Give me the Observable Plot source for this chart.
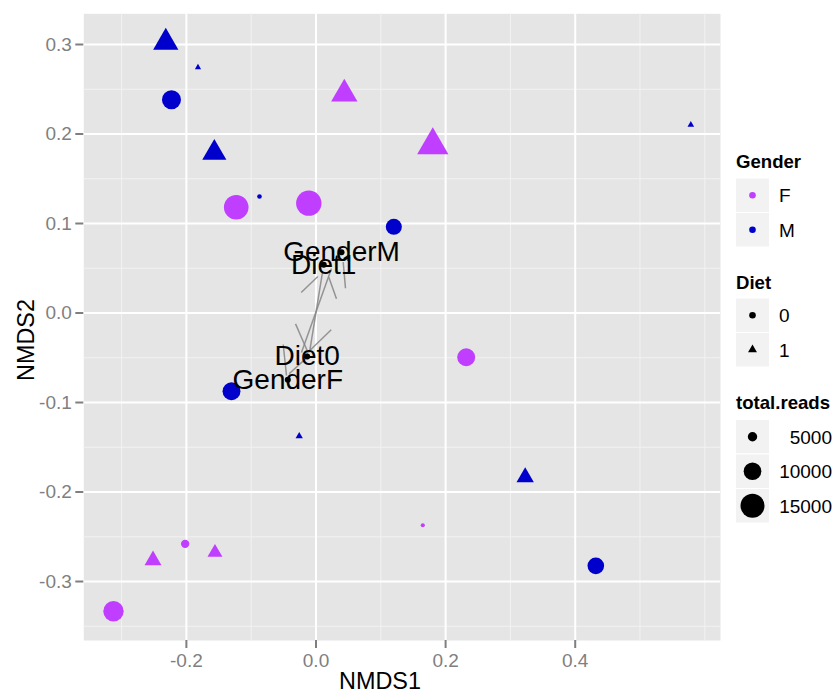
<!DOCTYPE html>
<html><head><meta charset="utf-8">
<script src="https://cdn.jsdelivr.net/npm/d3@7"></script>
<script src="https://cdn.jsdelivr.net/npm/@observablehq/plot@0.6"></script>
<style>body{margin:0;background:#fff;} svg{display:block}</style>
</head><body><div id="chart"></div>
<script>
const FONT = "'Liberation Sans', Arial, Helvetica, sans-serif";

// ---- sample data ----
const nmds1 = [-0.2318,-0.1821,-0.2230,0.0437,0.1802,0.5784,-0.1569,-0.1231,-0.0872,-0.0111,0.1201,0.2318,-0.1304,-0.0259,0.3228,0.1648,-0.2019,-0.2515,-0.1559,-0.3125,0.4318];
const nmds2 = [0.3023,0.2744,0.2382,0.2447,0.1874,0.2103,0.1789,0.1182,0.1302,0.1227,0.0963,-0.0494,-0.0874,-0.1377,-0.1835,-0.2371,-0.2579,-0.2763,-0.2676,-0.3332,-0.2825];
const gender = ["M","M","M","F","F","M","M","F","M","F","M","F","M","M","M","F","F","F","F","F","M"];
const diet = ["1","1","0","1","1","1","1","0","0","0","0","0","0","1","1","0","0","1","1","0","0"];
const totalReads = [10800,2900,11000,11400,14300,3000,10200,15500,2900,16200,8900,10200,10200,3200,6900,2700,4500,6700,5900,12000,9300];

// ---- factor centroids ----
const centLabels = ["GenderF","GenderM","Diet0","Diet1"];
const centX = [-0.0435,0.0394,-0.0136,0.0120];
const centY = [-0.0746,0.0679,-0.0486,0.0539];

// ---- gray segments ----
const segX1 = [-0.0228,0.0316,0.0455,0.0239,0.0100,-0.0316,0.0235,-0.0506,-0.0414];
const segY1 = [0.0229,0.0159,0.0277,0.0497,0.0453,-0.0121,-0.0188,-0.0352,-0.0679];
const segX2 = [0.0028,0.0198,0.0420,-0.0224,-0.0100,-0.0136,-0.0147,-0.0455,-0.0162];
const segY2 = [0.0408,0.0400,0.0568,-0.0441,-0.0441,-0.0419,-0.0456,-0.0698,-0.0512];

// ---- scales / ticks ----
const genderLevels = ["F","M"];
const genderColors = ["#BF3EFF","#0000CD"];
const dietLevels = ["0","1"];
const sizeBreaks = [5000,10000,15000];
const xMajor = [-0.2,0,0.2,0.4];
const xMinor = [-0.3,-0.1,0.1,0.3,0.5,0.6];
const yMajor = [-0.3,-0.2,-0.1,0,0.1,0.2,0.3];
const yMinor = [-0.35,-0.25,-0.15,-0.05,0.05,0.15,0.25];

const samples = nmds1.map((x,i)=>({x, y:nmds2[i], gender:gender[i], diet:diet[i], reads:totalReads[i]}));
const cents = centLabels.map((l,i)=>({label:l, x:centX[i], y:centY[i]}));
const segs = segX1.map((x1,i)=>({x1, y1:segY1[i], x2:segX2[i], y2:segY2[i]}));

const rDomain = [1400,15000], rRange = [0,12];

const plot = Plot.plot({
  width:834, height:694, marginLeft:83.3, marginRight:114, marginTop:13.3, marginBottom:54,
  style:{fontFamily:FONT, fontSize:"19px", background:"white", color:"black"},
  x:{domain:[-0.3583,0.6242], axis:null},
  y:{domain:[-0.3659,0.3343], axis:null},
  r:{type:"sqrt", domain:rDomain, range:rRange},
  symbol:{domain:dietLevels, range:["circle","triangle"]},
  color:{domain:genderLevels, range:genderColors},
  marks:[
    Plot.frame({fill:"#E5E5E5", stroke:"none"}),
    Plot.gridX(xMinor, {stroke:"#F2F2F2", strokeOpacity:1, strokeWidth:1}),
    Plot.gridY(yMinor, {stroke:"#F2F2F2", strokeOpacity:1, strokeWidth:1}),
    Plot.gridX(xMajor, {stroke:"#FFFFFF", strokeOpacity:1, strokeWidth:2}),
    Plot.gridY(yMajor, {stroke:"#FFFFFF", strokeOpacity:1, strokeWidth:2}),
    Plot.axisX(xMajor, {tickSize:8, tickPadding:5, tickFormat:d=>d.toFixed(1), stroke:"#7F7F7F", fill:"#7F7F7F", strokeWidth:2, label:null, fontSize:19}),
    Plot.axisY(yMajor, {tickSize:8, tickPadding:4, tickFormat:d=>d.toFixed(1), stroke:"#7F7F7F", fill:"#7F7F7F", strokeWidth:2, label:null, fontSize:19}),
    Plot.dot(samples, {x:"x", y:"y", fill:"gender", symbol:"diet", r:"reads"}),
    Plot.link(segs, {x1:"x1", y1:"y1", x2:"x2", y2:"y2", stroke:"#858585", strokeOpacity:0.85, strokeWidth:1.5}),
    Plot.dot(cents, {x:"x", y:"y", r:3, fill:"black"}),
    Plot.text(cents, {x:"x", y:"y", text:"label", fontSize:28, fill:"black"})
  ]
});
document.getElementById("chart").appendChild(plot);

// ---- axis titles and legend ----
const svg = d3.select(plot);
const g = svg.append("g").attr("font-family", FONT).attr("text-anchor","start");
g.append("text").attr("x",380).attr("y",689).attr("text-anchor","middle").attr("font-size",23.4).attr("fill","black").text("NMDS1");
g.append("text").attr("transform","translate(34,340) rotate(-90)").attr("text-anchor","middle").attr("font-size",23.4).attr("fill","black").text("NMDS2");

const rScale = d3.scaleSqrt().domain(rDomain).range(rRange);
const kx = 735.5, kw = 34, kh = 34.5, lx = 779;
function key(y0){ g.append("rect").attr("x",kx).attr("y",y0).attr("width",kw).attr("height",kh).attr("fill","#F2F2F2").attr("stroke","white").attr("stroke-width",1); return y0+kh/2; }
function title(t,y){ g.append("text").attr("x",736).attr("y",y).attr("text-anchor","start").attr("font-size",18.6).attr("font-weight","bold").attr("fill","black").text(t); }
function label(t,y,right){ g.append("text").attr("x",right?832:lx).attr("y",y).attr("dy","0.36em").attr("text-anchor",right?"end":"start").attr("font-size",19).attr("fill","black").text(t); }

title("Gender",168);
genderLevels.forEach((lv,i)=>{ const cy=key(178+i*kh); g.append("circle").attr("cx",kx+kw/2).attr("cy",cy).attr("r",3.3).attr("fill",genderColors[i]); label(lv,cy); });

title("Diet",289);
const symArea = Math.PI*3.3*3.3;
dietLevels.forEach((lv,i)=>{ const cy=key(298+i*kh); const sym = i===0?d3.symbolCircle:d3.symbolTriangle; g.append("path").attr("d",d3.symbol(sym,symArea)()).attr("transform",`translate(${kx+kw/2},${cy})`).attr("fill","black"); label(lv,cy); });

title("total.reads",409);
sizeBreaks.forEach((v,i)=>{ const cy=key(419.5+i*kh); g.append("circle").attr("cx",kx+kw/2).attr("cy",cy).attr("r",rScale(v)).attr("fill","black"); label(String(v),cy,true); });
</script>
</body></html>
